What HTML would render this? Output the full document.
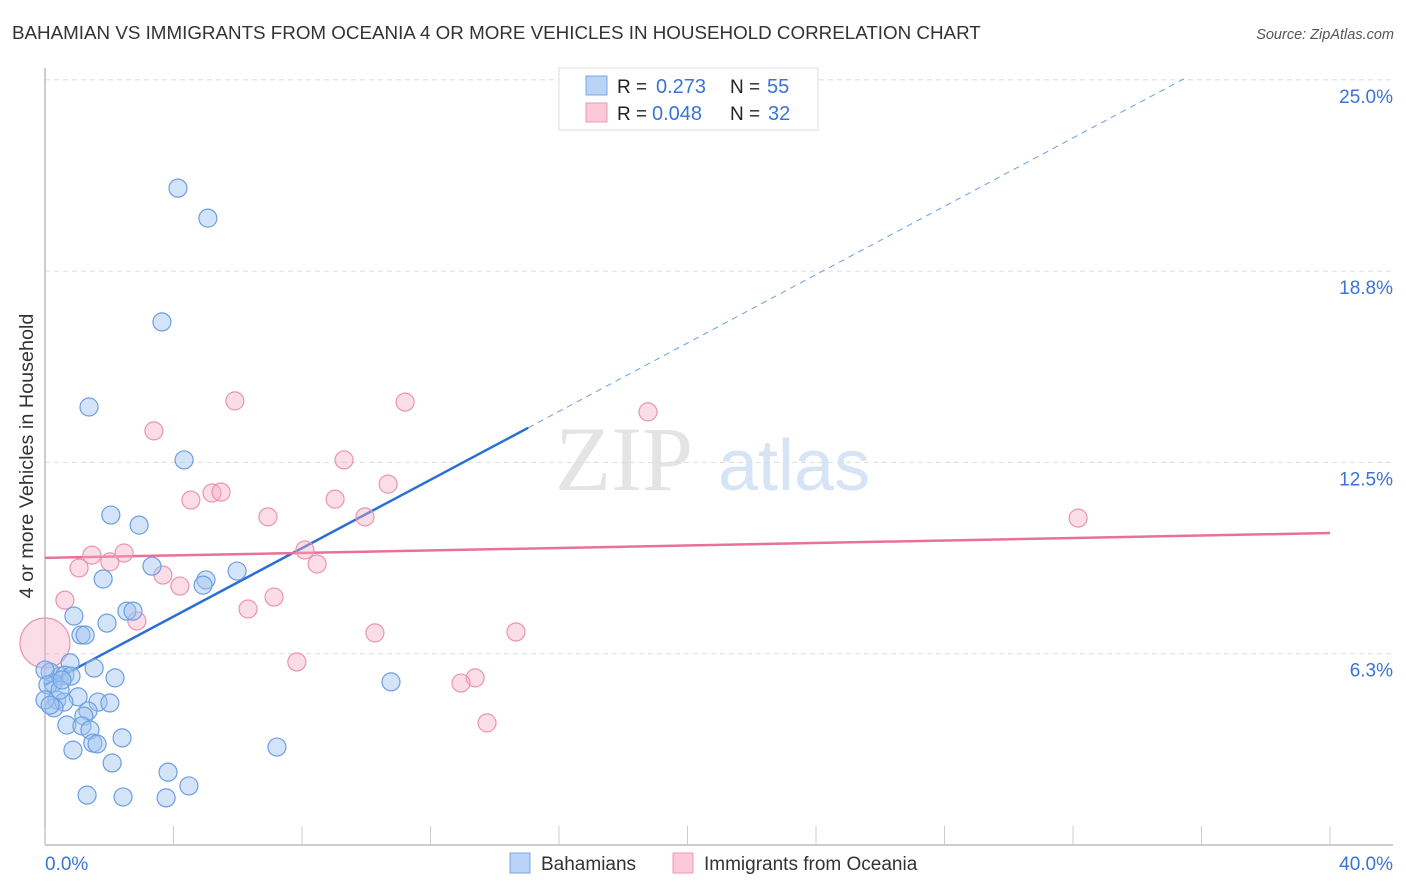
<!DOCTYPE html>
<html><head><meta charset="utf-8"><style>
body{margin:0;background:#fff;font-family:"Liberation Sans",sans-serif;}
svg{display:block}
</style></head><body>
<svg id="chart" width="1406" height="892">
<text x="12" y="39" font-size="18.8" fill="#333">BAHAMIAN VS IMMIGRANTS FROM OCEANIA 4 OR MORE VEHICLES IN HOUSEHOLD CORRELATION CHART</text>
<text x="1394" y="39" font-size="14.5" fill="#555" font-style="italic" text-anchor="end">Source: ZipAtlas.com</text>
<text x="33" y="456" font-size="19.8" fill="#333" text-anchor="middle" transform="rotate(-90 33 456)">4 or more Vehicles in Household</text>
<g><text x="555" y="490" font-size="92" fill="#e4e4e4" font-family="Liberation Serif,serif">ZIP</text><text x="718" y="490" font-size="72" fill="#d6e4f5">atlas</text></g>
<g id="grid"></g><g id="axes"></g><g id="lines"></g><g id="pts"></g>
<g>
<rect x="559" y="68" width="259" height="62" fill="#fff" stroke="#ddd"/>
<rect x="586" y="76" width="21" height="19" fill="#b8d3f5" stroke="#7aa7e3"/>
<rect x="586" y="103" width="21" height="19" fill="#fbc9d8" stroke="#ee9ab5"/>
<text x="617" y="93" font-size="19" fill="#222">R = </text><text x="656" y="93" font-size="20" fill="#3a74d4">0.273</text>
<text x="730" y="93" font-size="19" fill="#222">N = </text><text x="767" y="93" font-size="20" fill="#3a74d4">55</text>
<text x="617" y="120" font-size="19" fill="#222">R = </text><text x="652" y="120" font-size="20" fill="#3a74d4">0.048</text>
<text x="730" y="120" font-size="19" fill="#222">N = </text><text x="768" y="120" font-size="20" fill="#3a74d4">32</text>
</g>
<g>
<rect x="510" y="853" width="20" height="20" fill="#b8d3f5" stroke="#7aa7e3"/>
<text x="541" y="870" font-size="19" fill="#333">Bahamians</text>
<rect x="673" y="853" width="20" height="20" fill="#fbc9d8" stroke="#ee9ab5"/>
<text x="704" y="870" font-size="19" fill="#333">Immigrants from Oceania</text>
</g>
</svg>
<script>
const yTicks=[6.25,12.5,18.75,25];
const yTickLabels=["6.3%","12.5%","18.8%","25.0%"];
const xTickLabels=["0.0%","40.0%"];
const blueX=[4.14,5.07,3.64,1.37,4.33,2.05,2.93,3.33,1.81,5.01,5.98,4.92,2.55,2.74,0.90,1.12,1.25,1.93,0.78,1.53,0.16,0.47,0.62,0.81,0.25,2.18,10.77,1.03,0.37,0.59,1.65,2.02,0.28,1.34,1.21,0.68,1.15,1.40,2.40,1.49,1.62,0.87,7.22,2.09,3.83,1.31,2.43,3.77,4.48,0,0.09,0.47,0,0.16,0.53];
const blueY=[21.46,20.48,17.09,14.31,12.58,10.78,10.45,9.11,8.69,8.66,8.95,8.49,7.64,7.64,7.48,6.86,6.86,7.25,5.95,5.78,5.65,5.52,5.55,5.52,5.29,5.46,5.33,4.84,4.74,4.67,4.67,4.64,4.48,4.38,4.21,3.92,3.89,3.76,3.50,3.33,3.30,3.10,3.20,2.68,2.38,1.63,1.57,1.54,1.93,5.72,5.23,5.06,4.74,4.57,5.39];
const pinkX=[0,3.39,5.91,11.21,18.77,9.31,4.54,5.20,5.48,9.03,10.68,6.94,9.96,32.16,1.46,2.46,2.02,1.06,8.09,8.47,3.67,4.20,0.62,7.13,6.32,2.86,10.27,14.66,7.84,13.39,12.95,13.76];
const pinkY=[6.6,13.53,14.51,14.47,14.15,12.58,11.27,11.50,11.53,11.30,11.79,10.72,10.72,10.68,9.47,9.54,9.25,9.05,9.64,9.18,8.82,8.46,8.00,8.10,7.71,7.32,6.93,6.96,5.98,5.46,5.29,3.99];
const pinkR=[25];
const blueTrend=[5.23,0.5585];const pinkTrend=[9.38,0.0203];
const X0=45,X1=1330,Yb=845,pxPerY=191.3/6.25;
const sx=v=>X0+(v/40)*(X1-X0);
const sy=v=>Yb-v*pxPerY;
const NS="http://www.w3.org/2000/svg";
function mk(parent,tag,attrs){const e=document.createElementNS(NS,tag);for(const k in attrs)e.setAttribute(k,attrs[k]);document.getElementById(parent).appendChild(e);return e;}
yTicks.forEach((t,i)=>{
 const l=mk("grid","line",{x1:X0,x2:1393,y1:sy(t),y2:sy(t),stroke:"#ddd","stroke-dasharray":"5,4"});
 
 
 const tx=mk("grid","text",{x:1393,y:sy(t)+23,"font-size":19,fill:"#3a74d4","text-anchor":"end"});
 tx.textContent=yTickLabels[i];
 
 
});
let ax=mk("axes","line",{x1:X0,x2:1393,y1:Yb,y2:Yb,stroke:"#bbb","stroke-width":1.5});


let ay=mk("axes","line",{x1:X0,x2:X0,y1:68,y2:Yb,stroke:"#bbb","stroke-width":1.5});


for(let i=0;i<=10;i++){const t=mk("axes","line",{x1:sx(i*4),x2:sx(i*4),y1:826,y2:Yb,stroke:"#ccc"});
 
 }
[[0,"start",X0],[40,"end",1393]].forEach((d,i)=>{const t=mk("axes","text",{x:d[2],y:870,"font-size":19,fill:"#3a74d4","text-anchor":d[1]});t.textContent=xTickLabels[i];
 
 });
pinkX.forEach((x,i)=>{const c=mk("pts","circle",{cx:sx(x),cy:sy(pinkY[i]),r:i===0?pinkR[0]:9,fill:"rgba(246,170,196,0.4)",stroke:"#eb93b0","stroke-width":1.2});
 
 });
blueX.forEach((x,i)=>{const c=mk("pts","circle",{cx:sx(x),cy:sy(blueY[i]),r:9,fill:"rgba(160,196,240,0.45)",stroke:"#6b9ee3","stroke-width":1.2});
 
 });
let b1=mk("lines","line",{x1:sx(0),y1:sy(blueTrend[0]),x2:sx(15.04),y2:sy(blueTrend[0]+blueTrend[1]*15.04),stroke:"#2a6fd6","stroke-width":2.5});


let b2=mk("lines","line",{x1:sx(15.04),y1:sy(blueTrend[0]+blueTrend[1]*15.04),x2:sx(35.5),y2:sy(blueTrend[0]+blueTrend[1]*35.5),stroke:"#6b9ee3","stroke-width":1,"stroke-dasharray":"6,5"});


let p1=mk("lines","line",{x1:sx(0),y1:sy(pinkTrend[0]),x2:sx(40),y2:sy(pinkTrend[0]+pinkTrend[1]*40),stroke:"#e8709a","stroke-width":2.5});


</script>
</body></html>
